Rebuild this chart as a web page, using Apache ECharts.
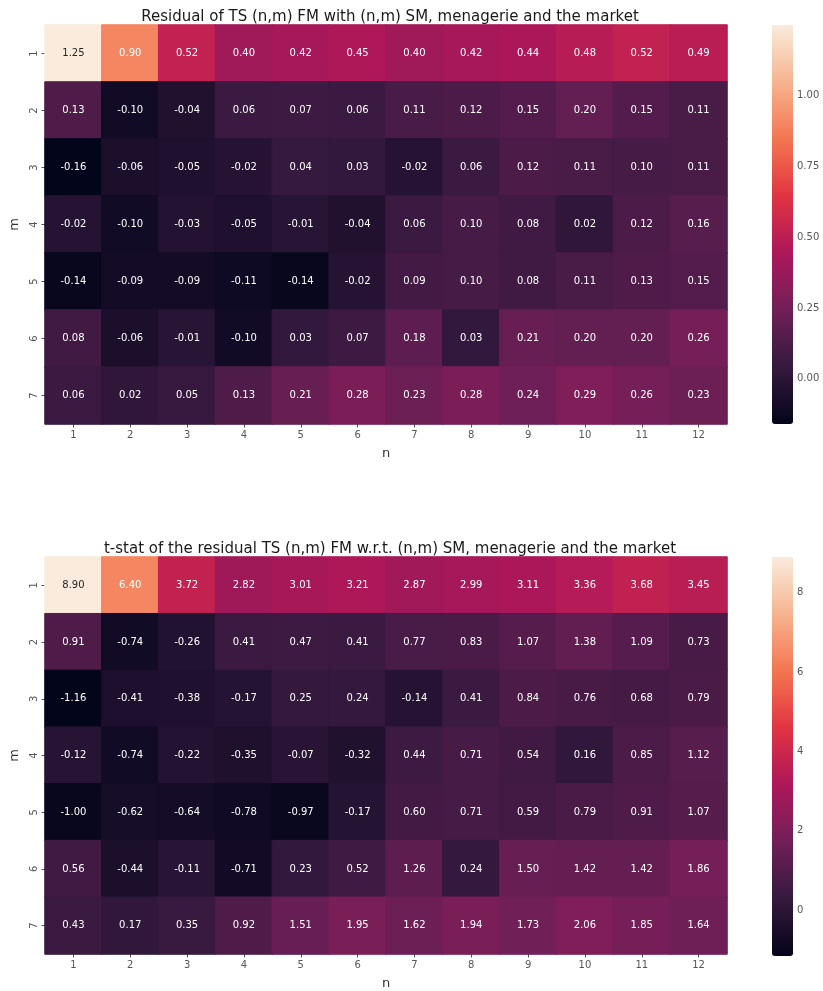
<!DOCTYPE html>
<html>
<head>
<meta charset="utf-8">
<script src="https://cdn.jsdelivr.net/npm/echarts@6/dist/echarts.min.js"></script>
<style>
  html, body { margin: 0; padding: 0; background: #fff; }
  #chart { width: 823px; height: 991px; }
</style>
</head>
<body>
<div id="chart"></div>
<script>
// Column (n) and row (m) categories
const nLabels = ['1','2','3','4','5','6','7','8','9','10','11','12'];
const mLabels = ['1','2','3','4','5','6','7'];

// Residual of TS (n,m) FM, rows m = 1..7, columns n = 1..12
const residual = [
  [1.25, 0.90, 0.52, 0.40, 0.42, 0.45, 0.40, 0.42, 0.44, 0.48, 0.52, 0.49],
  [0.13, -0.10, -0.04, 0.06, 0.07, 0.06, 0.11, 0.12, 0.15, 0.20, 0.15, 0.11],
  [-0.16, -0.06, -0.05, -0.02, 0.04, 0.03, -0.02, 0.06, 0.12, 0.11, 0.10, 0.11],
  [-0.02, -0.10, -0.03, -0.05, -0.01, -0.04, 0.06, 0.10, 0.08, 0.02, 0.12, 0.16],
  [-0.14, -0.09, -0.09, -0.11, -0.14, -0.02, 0.09, 0.10, 0.08, 0.11, 0.13, 0.15],
  [0.08, -0.06, -0.01, -0.10, 0.03, 0.07, 0.18, 0.03, 0.21, 0.20, 0.20, 0.26],
  [0.06, 0.02, 0.05, 0.13, 0.21, 0.28, 0.23, 0.28, 0.24, 0.29, 0.26, 0.23]
];

// t-statistics of the residuals, same layout
const tstat = [
  [8.90, 6.40, 3.72, 2.82, 3.01, 3.21, 2.87, 2.99, 3.11, 3.36, 3.68, 3.45],
  [0.91, -0.74, -0.26, 0.41, 0.47, 0.41, 0.77, 0.83, 1.07, 1.38, 1.09, 0.73],
  [-1.16, -0.41, -0.38, -0.17, 0.25, 0.24, -0.14, 0.41, 0.84, 0.76, 0.68, 0.79],
  [-0.12, -0.74, -0.22, -0.35, -0.07, -0.32, 0.44, 0.71, 0.54, 0.16, 0.85, 1.12],
  [-1.00, -0.62, -0.64, -0.78, -0.97, -0.17, 0.60, 0.71, 0.59, 0.79, 0.91, 1.07],
  [0.56, -0.44, -0.11, -0.71, 0.23, 0.52, 1.26, 0.24, 1.50, 1.42, 1.42, 1.86],
  [0.43, 0.17, 0.35, 0.92, 1.51, 1.95, 1.62, 1.94, 1.73, 2.06, 1.85, 1.64]
];

// Colorbar tick values
const residualTicks = [0, 0.25, 0.5, 0.75, 1.0];
const tstatTicks = [0, 2, 4, 6, 8];

// "rocket" style sequential palette
const rocket = ['#03051a', '#1c0f2c', '#35193e', '#521c4b', '#701f57', '#8f1c59', '#ad1759',
                '#c8254e', '#e13342', '#ec5548', '#f37651', '#f59570', '#f6b48f', '#f8d0b6', '#faebdd'];

const FONT = 'DejaVu Sans';
const TICK_COLOR = '#555555';

function extent(rows) {
  const flat = rows.flat();
  return [Math.min(...flat), Math.max(...flat)];
}

// Each cell gets a hairline border in its own fill colour so neighbouring
// cells meet without anti-aliasing seams; annotation text turns dark on light cells.
function cells(rows, lo, hi) {
  const out = [];
  rows.forEach((row, m) => {
    row.forEach((v, n) => {
      const t = (v - lo) / (hi - lo);
      out.push({
        value: [n, m, v],
        itemStyle: { borderColor: echarts.color.lerp(t, rocket), borderWidth: 1 },
        label: { color: t > 0.85 ? '#262626' : '#ffffff' }
      });
    });
  });
  return out;
}

// Whole-pixel cell sizes (57 x 57)
const W = 684, H = 399, LEFT = 43;
const TOP1 = 25, TOP2 = 557;
const CB_LEFT = 772, CB_W = 21;

const [r0, r1] = extent(residual);
const [t0, t1] = extent(tstat);

function heatAxes(gridIndex) {
  return {
    x: {
      type: 'category', data: nLabels, gridIndex,
      name: 'n', nameLocation: 'middle', nameGap: 23,
      nameTextStyle: { fontFamily: FONT, fontSize: 13, color: '#333' },
      axisLine: { show: false },
      axisTick: { show: true, alignWithLabel: true, length: 3.5, lineStyle: { color: TICK_COLOR } },
      axisLabel: { fontFamily: FONT, fontSize: 10, color: TICK_COLOR, margin: 6 },
      splitArea: { show: false }
    },
    y: {
      type: 'category', data: mLabels, gridIndex, inverse: true,
      name: 'm', nameLocation: 'middle', nameGap: 24, nameRotate: 90,
      nameTextStyle: { fontFamily: FONT, fontSize: 13, color: '#333' },
      axisLine: { show: false },
      axisTick: { show: true, alignWithLabel: true, length: 3.5, lineStyle: { color: TICK_COLOR } },
      axisLabel: { fontFamily: FONT, fontSize: 10, color: TICK_COLOR, rotate: 90, margin: 6 },
      splitArea: { show: false }
    }
  };
}

function cbAxis(gridIndex, lo, hi, ticks, digits) {
  return {
    type: 'value', gridIndex, position: 'right', min: lo, max: hi,
    axisLine: { show: false },
    splitLine: { show: false },
    axisTick: { show: true, length: 3.5, lineStyle: { color: TICK_COLOR }, customValues: ticks },
    axisLabel: { fontFamily: FONT, fontSize: 10, color: TICK_COLOR, margin: 4,
                 customValues: ticks, formatter: v => v.toFixed(digits) }
  };
}

const a1 = heatAxes(0), a2 = heatAxes(1);

const option = {
  backgroundColor: '#ffffff',
  animation: false,
  title: [
    { text: 'Residual of TS (n,m) FM with (n,m) SM, menagerie and the market',
      left: LEFT + W / 2, top: 5, textAlign: 'center',
      textStyle: { fontFamily: FONT, fontSize: 15, fontWeight: 'normal', color: '#1a1a1a' } },
    { text: 't-stat of the residual TS (n,m) FM w.r.t. (n,m) SM, menagerie and the market',
      left: LEFT + W / 2, top: 537, textAlign: 'center',
      textStyle: { fontFamily: FONT, fontSize: 15, fontWeight: 'normal', color: '#1a1a1a' } }
  ],
  grid: [
    { left: LEFT, top: TOP1, width: W, height: H },
    { left: LEFT, top: TOP2, width: W, height: H },
    { left: CB_LEFT, top: TOP1, width: CB_W, height: H },
    { left: CB_LEFT, top: TOP2, width: CB_W, height: H }
  ],
  xAxis: [
    a1.x, a2.x,
    { type: 'value', gridIndex: 2, show: false, min: 0, max: 1 },
    { type: 'value', gridIndex: 3, show: false, min: 0, max: 1 }
  ],
  yAxis: [
    a1.y, a2.y,
    cbAxis(2, r0, r1, residualTicks, 2),
    cbAxis(3, t0, t1, tstatTicks, 0)
  ],
  visualMap: [
    { type: 'continuous', seriesIndex: 0, min: r0, max: r1, calculable: false, hoverLink: false,
      orient: 'vertical', left: CB_LEFT, top: TOP1, itemWidth: CB_W, itemHeight: H, padding: 0,
      text: null, showLabel: false, inRange: { color: rocket } },
    { type: 'continuous', seriesIndex: 1, min: t0, max: t1, calculable: false, hoverLink: false,
      orient: 'vertical', left: CB_LEFT, top: TOP2, itemWidth: CB_W, itemHeight: H, padding: 0,
      text: null, showLabel: false, inRange: { color: rocket } }
  ],
  series: [
    { type: 'heatmap', xAxisIndex: 0, yAxisIndex: 0, data: cells(residual, r0, r1),
      label: { show: true, fontFamily: FONT, fontSize: 10, formatter: p => p.value[2].toFixed(2) },
      emphasis: { disabled: true } },
    { type: 'heatmap', xAxisIndex: 1, yAxisIndex: 1, data: cells(tstat, t0, t1),
      label: { show: true, fontFamily: FONT, fontSize: 10, formatter: p => p.value[2].toFixed(2) },
      emphasis: { disabled: true } }
  ]
};

const chart = echarts.init(document.getElementById('chart'), null, { renderer: 'canvas' });
chart.setOption(option);
</script>
</body>
</html>
